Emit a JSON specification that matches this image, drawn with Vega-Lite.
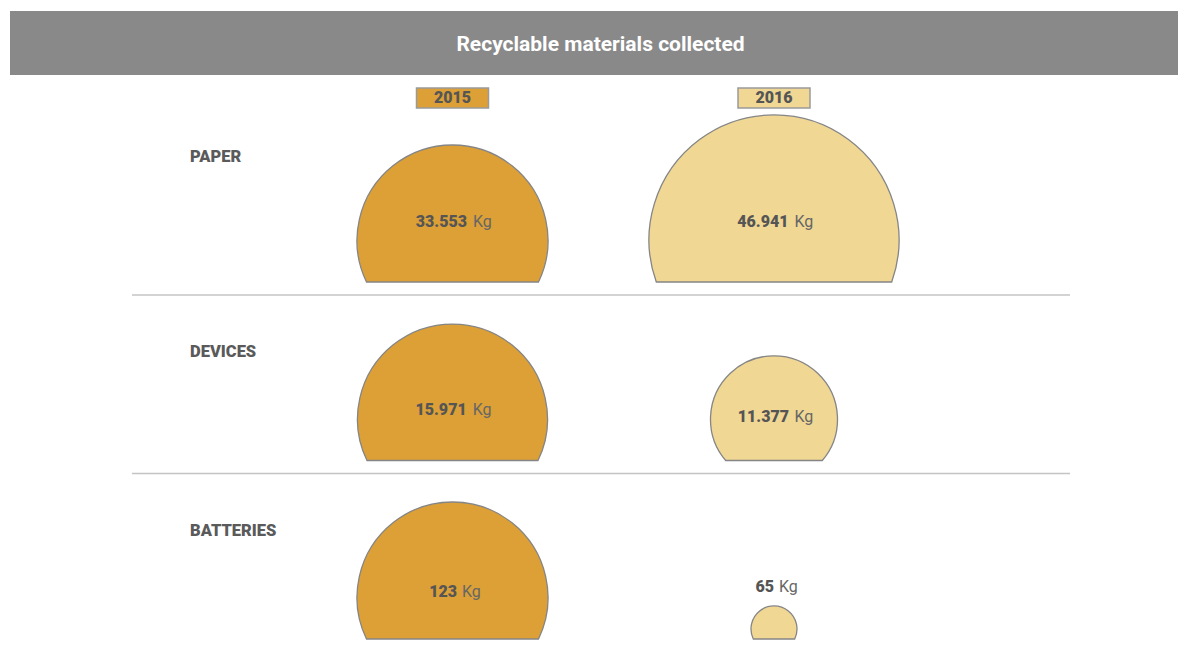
{
  "$schema": "https://vega.github.io/schema/vega-lite/v6.json",
  "padding": {"left": 10, "top": 11, "right": 0, "bottom": 0},
  "spacing": 0,
  "background": "#ffffff",
  "config": {
    "view": {"stroke": null},
    "font": "Roboto",
    "scale": {"pointPadding": 0},
    "locale": {"number": {"decimal": ",", "thousands": ".", "grouping": [3], "currency": ["", " €"]}}
  },
  "datasets": {
    "materials": [
      {"category": "PAPER", "year": "2015", "kg": 33553, "key": "P15"},
      {"category": "PAPER", "year": "2016", "kg": 46941, "key": "P16"},
      {"category": "DEVICES", "year": "2015", "kg": 15971, "key": "D15"},
      {"category": "DEVICES", "year": "2016", "kg": 11377, "key": "D16"},
      {"category": "BATTERIES", "year": "2015", "kg": 123, "key": "B15"},
      {"category": "BATTERIES", "year": "2016", "kg": 65, "key": "B16"}
    ]
  },
  "vconcat": [
    {
      "width": 1168,
      "height": 64,
      "view": {"fill": "#898989", "stroke": null},
      "data": {"values": [{"title": "Recyclable materials collected"}]},
      "mark": {"type": "text", "font": "Roboto", "fontWeight": "bold", "fontSize": 21, "color": "#ffffff", "dx": 6.5, "dy": 1.5, "baseline": "middle"},
      "encoding": {"text": {"field": "title", "type": "nominal"}}
    },
    {
      "width": 1168,
      "height": 574,
      "data": {"name": "materials"},
      "layer": [
        {
          "transform": [{"filter": "datum.year === '2015' && datum.category !== 'BATTERIES'"}],
          "mark": {"type": "rule", "xOffset": -320.5, "x2Offset": 296, "yOffset": 13, "color": "#c4c4c4", "strokeWidth": 1.5},
          "encoding": {
            "x": {"datum": "2015", "type": "nominal", "scale": {"type": "point", "padding": 0, "domain": ["2015", "2016"], "range": [442.5, 764]}, "axis": null},
            "x2": {"datum": "2016"},
            "y": {"field": "category", "type": "nominal", "scale": {"type": "point", "padding": 0, "domain": ["YEAR", "PAPER", "DEVICES", "BATTERIES"], "range": [28.5, 564]}, "axis": null}
          }
        },
        {
          "mark": {"type": "point", "filled": true, "size": 4, "opacity": 1, "stroke": "#858585", "strokeWidth": 1.3},
          "encoding": {
            "x": {"field": "year", "type": "nominal", "scale": {"type": "point", "padding": 0, "domain": ["2015", "2016"], "range": [442.5, 764]}, "axis": null},
            "y": {"field": "category", "type": "nominal", "scale": {"type": "point", "padding": 0, "domain": ["YEAR", "PAPER", "DEVICES", "BATTERIES"], "range": [28.5, 564]}, "axis": null},
            "color": {"field": "year", "type": "nominal", "scale": {"domain": ["2015", "2016"], "range": ["#DCA036", "#F0D794"]}, "legend": null},
            "shape": {
              "field": "key", "type": "nominal", "legend": null,
              "scale": {
                "domain": ["P15", "P16", "D15", "D16", "B15", "B16"],
                "range": [
                  "M -86 0 A 95.5 95.5 0 1 1 86 0 Z",
                  "M -117.7 0 A 125 125 0 1 1 117.7 0 Z",
                  "M -85.5 0 A 95 95 0 1 1 85.5 0 Z",
                  "M -48.3 0 A 63.5 63.5 0 1 1 48.3 0 Z",
                  "M -86 0 A 95.5 95.5 0 1 1 86 0 Z",
                  "M -20.7 0 A 23 23 0 1 1 20.7 0 Z"
                ]
              }
            }
          }
        },
        {
          "transform": [{"filter": "datum.category === 'PAPER'"}],
          "encoding": {
            "x": {"field": "year", "type": "nominal", "scale": {"type": "point", "padding": 0, "domain": ["2015", "2016"], "range": [442.5, 764]}, "axis": null},
            "y": {"datum": "YEAR", "type": "nominal", "scale": {"type": "point", "padding": 0, "domain": ["YEAR", "PAPER", "DEVICES", "BATTERIES"], "range": [28.5, 564]}, "axis": null}
          },
          "layer": [
            {
              "mark": {"type": "point", "filled": true, "size": 4, "opacity": 1, "stroke": "#9a9a9a", "strokeWidth": 1.5, "shape": "M -36 -10 H 36 V 10 H -36 Z", "yOffset": -5.5},
              "encoding": {"color": {"field": "year", "type": "nominal", "scale": {"domain": ["2015", "2016"], "range": ["#DCA036", "#F0D794"]}, "legend": null}}
            },
            {
              "mark": {"type": "text", "font": "Roboto", "fontWeight": 900, "fontSize": 16, "color": "#555555", "baseline": "middle", "dy": -5.5},
              "encoding": {"text": {"field": "year", "type": "nominal"}}
            }
          ]
        },
        {
          "transform": [{"filter": "datum.year === '2015'"}],
          "encoding": {
            "x": {"datum": "2015", "type": "nominal", "scale": {"type": "point", "padding": 0, "domain": ["2015", "2016"], "range": [442.5, 764]}, "axis": null},
            "y": {"field": "category", "type": "nominal", "scale": {"type": "point", "padding": 0, "domain": ["YEAR", "PAPER", "DEVICES", "BATTERIES"], "range": [28.5, 564]}, "axis": null},
            "text": {"field": "category", "type": "nominal"}
          },
          "layer": [
            {
              "transform": [{"filter": "datum.category === 'PAPER'"}],
              "mark": {"type": "text", "font": "Roboto", "fontWeight": 900, "fontSize": 16.5, "color": "#5a5a5a", "align": "left", "baseline": "middle", "dx": -262.5, "dy": -125}
            },
            {
              "transform": [{"filter": "datum.category !== 'PAPER'"}],
              "mark": {"type": "text", "font": "Roboto", "fontWeight": 900, "fontSize": 16.5, "color": "#5a5a5a", "align": "left", "baseline": "middle", "dx": -262.5, "dy": -108.5}
            }
          ]
        },
        {
          "transform": [{"filter": {"field": "key", "oneOf": ["P15", "P16"]}}],
          "encoding": {
            "x": {"field": "year", "type": "nominal", "scale": {"type": "point", "padding": 0, "domain": ["2015", "2016"], "range": [442.5, 764]}, "axis": null},
            "y": {"field": "category", "type": "nominal", "scale": {"type": "point", "padding": 0, "domain": ["YEAR", "PAPER", "DEVICES", "BATTERIES"], "range": [28.5, 564]}, "axis": null}
          },
          "layer": [
            {"mark": {"type": "text", "align": "right", "baseline": "middle", "dx": 14.5, "dy": -60, "font": "Roboto", "fontWeight": 900, "fontSize": 16, "color": "#555555"}, "encoding": {"text": {"field": "kg", "type": "quantitative", "format": ",d"}}},
            {"mark": {"type": "text", "align": "left", "baseline": "middle", "dx": 20.5, "dy": -60, "font": "Roboto", "fontSize": 16, "color": "#666666"}, "encoding": {"text": {"value": "Kg"}}}
          ]
        },
        {
          "transform": [{"filter": {"field": "key", "oneOf": ["D15"]}}],
          "encoding": {
            "x": {"field": "year", "type": "nominal", "scale": {"type": "point", "padding": 0, "domain": ["2015", "2016"], "range": [442.5, 764]}, "axis": null},
            "y": {"field": "category", "type": "nominal", "scale": {"type": "point", "padding": 0, "domain": ["YEAR", "PAPER", "DEVICES", "BATTERIES"], "range": [28.5, 564]}, "axis": null}
          },
          "layer": [
            {"mark": {"type": "text", "align": "right", "baseline": "middle", "dx": 14.2, "dy": -50.5, "font": "Roboto", "fontWeight": 900, "fontSize": 16, "color": "#555555"}, "encoding": {"text": {"field": "kg", "type": "quantitative", "format": ",d"}}},
            {"mark": {"type": "text", "align": "left", "baseline": "middle", "dx": 20.2, "dy": -50.5, "font": "Roboto", "fontSize": 16, "color": "#666666"}, "encoding": {"text": {"value": "Kg"}}}
          ]
        },
        {
          "transform": [{"filter": {"field": "key", "oneOf": ["D16"]}}],
          "encoding": {
            "x": {"field": "year", "type": "nominal", "scale": {"type": "point", "padding": 0, "domain": ["2015", "2016"], "range": [442.5, 764]}, "axis": null},
            "y": {"field": "category", "type": "nominal", "scale": {"type": "point", "padding": 0, "domain": ["YEAR", "PAPER", "DEVICES", "BATTERIES"], "range": [28.5, 564]}, "axis": null}
          },
          "layer": [
            {"mark": {"type": "text", "align": "right", "baseline": "middle", "dx": 15, "dy": -43.5, "font": "Roboto", "fontWeight": 900, "fontSize": 16, "color": "#555555"}, "encoding": {"text": {"field": "kg", "type": "quantitative", "format": ",d"}}},
            {"mark": {"type": "text", "align": "left", "baseline": "middle", "dx": 20.5, "dy": -43.5, "font": "Roboto", "fontSize": 16, "color": "#666666"}, "encoding": {"text": {"value": "Kg"}}}
          ]
        },
        {
          "transform": [{"filter": {"field": "key", "oneOf": ["B15"]}}],
          "encoding": {
            "x": {"field": "year", "type": "nominal", "scale": {"type": "point", "padding": 0, "domain": ["2015", "2016"], "range": [442.5, 764]}, "axis": null},
            "y": {"field": "category", "type": "nominal", "scale": {"type": "point", "padding": 0, "domain": ["YEAR", "PAPER", "DEVICES", "BATTERIES"], "range": [28.5, 564]}, "axis": null}
          },
          "layer": [
            {"mark": {"type": "text", "align": "right", "baseline": "middle", "dx": 4.5, "dy": -47, "font": "Roboto", "fontWeight": 900, "fontSize": 16, "color": "#555555"}, "encoding": {"text": {"field": "kg", "type": "quantitative", "format": ",d"}}},
            {"mark": {"type": "text", "align": "left", "baseline": "middle", "dx": 9.5, "dy": -47, "font": "Roboto", "fontSize": 16, "color": "#666666"}, "encoding": {"text": {"value": "Kg"}}}
          ]
        },
        {
          "transform": [{"filter": {"field": "key", "oneOf": ["B16"]}}],
          "encoding": {
            "x": {"field": "year", "type": "nominal", "scale": {"type": "point", "padding": 0, "domain": ["2015", "2016"], "range": [442.5, 764]}, "axis": null},
            "y": {"field": "category", "type": "nominal", "scale": {"type": "point", "padding": 0, "domain": ["YEAR", "PAPER", "DEVICES", "BATTERIES"], "range": [28.5, 564]}, "axis": null}
          },
          "layer": [
            {"mark": {"type": "text", "align": "right", "baseline": "middle", "dx": 0, "dy": -52, "font": "Roboto", "fontWeight": 900, "fontSize": 16, "color": "#555555"}, "encoding": {"text": {"field": "kg", "type": "quantitative", "format": ",d"}}},
            {"mark": {"type": "text", "align": "left", "baseline": "middle", "dx": 5, "dy": -52, "font": "Roboto", "fontSize": 16, "color": "#666666"}, "encoding": {"text": {"value": "Kg"}}}
          ]
        }
      ]
    }
  ]
}
